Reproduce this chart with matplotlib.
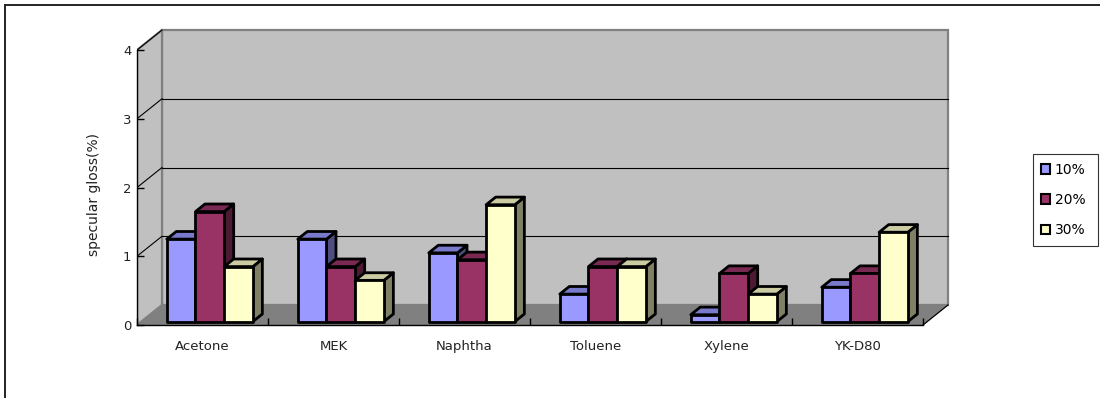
import matplotlib
matplotlib.use("Agg")
import matplotlib.pyplot as plt
from matplotlib.patches import Polygon, Patch, Rectangle

categories = ["Acetone", "MEK", "Naphtha", "Toluene", "Xylene", "YK-D80"]
series_names = ["10%", "20%", "30%"]
v10 = [1.2, 1.2, 1.0, 0.4, 0.1, 0.5]
v20 = [1.6, 0.8, 0.9, 0.8, 0.7, 0.7]
v30 = [0.8, 0.6, 1.7, 0.8, 0.4, 1.3]
yticks = [0, 1, 2, 3, 4]
ylabel = "specular gloss(%)"

series = [v10, v20, v30]
front_cols = ["#9999FF", "#993366", "#FFFFCC"]
top_cols = ["#7A7ACC", "#7A2952", "#CCCCA3"]
side_cols = ["#4D4D80", "#4D1A33", "#808066"]

W, H = 1100, 398
fig = plt.figure(figsize=(W / 100, H / 100), dpi=100)

# pixel geometry of the plot box
x0px, y0px = 137, 325
ppx_x, ppx_y = 131.0, 68.75
dxpx, dypx = 25, 20
DX, DY = dxpx / ppx_x, dypx / ppx_y
ncat = len(categories)
ymax = yticks[-1]

axw = ncat * ppx_x + dxpx + 2
axh = ymax * ppx_y + dypx + 2
ax = fig.add_axes([x0px / W, (H - y0px) / H, axw / W, axh / H])
ax.set_xlim(0, axw / ppx_x)
ax.set_ylim(0, axh / ppx_y)
ax.patch.set_visible(False)

wall = "#C0C0C0"
wall_edge = "#808080"
# back wall
ax.add_patch(Polygon([(DX, DY), (ncat + DX, DY), (ncat + DX, ymax + DY), (DX, ymax + DY)],
                     closed=True, fc=wall, ec=wall_edge, lw=1.6, zorder=1))
# left wall
ax.add_patch(Polygon([(0, 0), (DX, DY), (DX, ymax + DY), (0, ymax)],
                     closed=True, fc=wall, ec=wall_edge, lw=1.6, zorder=1))
# floor
ax.add_patch(Polygon([(0, 0), (ncat, 0), (ncat + DX, DY), (DX, DY)],
                     closed=True, fc="#808080", ec="none", zorder=1.5))
ax.plot([ncat, ncat + DX], [0, DY], color="black", lw=0.9, zorder=1.6)
# gridlines
for k in yticks[1:-1]:
    ax.plot([DX, ncat + DX], [k + DY, k + DY], color="black", lw=0.8, zorder=1.2)
for k in yticks[1:]:
    ax.plot([0, DX], [k, k + DY], color="black", lw=0.8, zorder=1.2)

# bars
d0, d1 = 0.17, 0.55
bw = 0.219
start = 0.195
for i in range(ncat):
    for j, vals in enumerate(series):
        v = vals[i]
        xl = i + start + j * bw + d0 * DX
        xr = xl + bw
        yb = d0 * DY
        yt = v + d0 * DY
        ddx = (d1 - d0) * DX
        ddy = (d1 - d0) * DY
        z = 3 + i * 0.1 + j * 0.01
        ax.add_patch(Polygon([(xr, yb), (xr + ddx, yb + ddy), (xr + ddx, yt + ddy), (xr, yt)],
                             closed=True, fc=side_cols[j], ec="black", lw=2.0, joinstyle="round", zorder=z))
        ax.add_patch(Polygon([(xl, yt), (xr, yt), (xr + ddx, yt + ddy), (xl + ddx, yt + ddy)],
                             closed=True, fc=top_cols[j], ec="black", lw=2.0, joinstyle="round", zorder=z))
        ax.add_patch(Polygon([(xl, yb), (xr, yb), (xr, yt), (xl, yt)],
                             closed=True, fc=front_cols[j], ec="black", lw=2.0, joinstyle="round", zorder=z + 0.001))

# axes
for s in ["top", "right"]:
    ax.spines[s].set_visible(False)
ax.spines["left"].set_bounds(0, ymax)
ax.spines["bottom"].set_bounds(0, ncat)
ax.spines["left"].set_linewidth(1.0)
ax.spines["bottom"].set_linewidth(1.0)
ax.spines["left"].set_zorder(10)
ax.spines["bottom"].set_zorder(10)
ax.set_yticks(yticks)
ax.set_yticklabels([str(t) for t in yticks])
ax.tick_params(axis="y", direction="in", length=5, width=1.0, pad=4, labelsize=9.5)
ax.set_xticks(range(ncat + 1))
ax.set_xticklabels([""] * (ncat + 1))
ax.set_xticks([i + 0.5 for i in range(ncat)], minor=True)
ax.set_xticklabels(categories, minor=True)
ax.tick_params(axis="x", which="major", direction="in", length=5, width=1.0, colors="black")
ax.tick_params(axis="x", which="minor", length=0, pad=11, labelsize=9.5)
for t in ax.get_yticklabels() + ax.get_xticklabels(minor=True):
    t.set_color("#222222")

fig.text(94 / W, 1 - 195 / H, ylabel, rotation=90, ha="center", va="center",
         fontsize=10, color="#222222")

# legend
handles = [Patch(fc=front_cols[j], ec="black", lw=1.5) for j in range(3)]
leg = fig.legend(handles, series_names, loc="center",
                 bbox_to_anchor=(1033 / W, 1 - 247 / H, 65 / W, 94 / H), mode="expand",
                 frameon=True, fancybox=False,
                 fontsize=10, handlelength=0.65, handleheight=0.65, handletextpad=0.3,
                 labelspacing=1.17, borderpad=0.6, borderaxespad=0)
leg.get_frame().set_edgecolor("black")
leg.get_frame().set_linewidth(0.8)

# outer border
fig.patches.append(Rectangle((5 / W, -0.1), 1.2, (H - 5) / H + 0.1, transform=fig.transFigure,
                             fill=False, ec="#222222", lw=1.4))

fig.savefig("out.png", dpi=100)
